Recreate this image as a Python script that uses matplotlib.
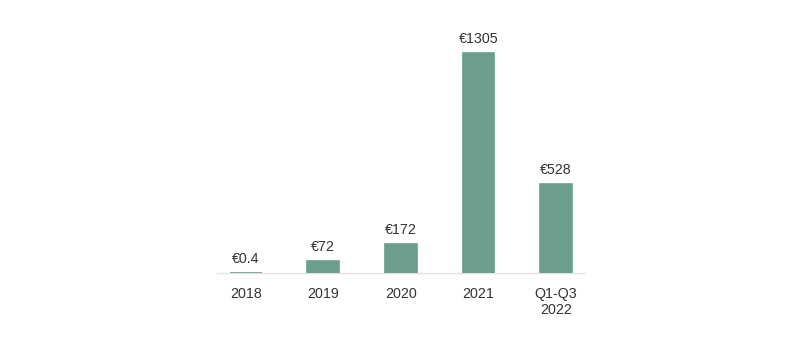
import matplotlib.pyplot as plt

plt.rcParams['font.family'] = ['Liberation Sans', 'DejaVu Sans']

periods = ['2018', '2019', '2020', '2021', 'Q1-Q3\n2022']
amounts = [0.4, 72, 172, 1305, 528]
value_labels = ['€0.4', '€72', '€172', '€1305', '€528']

bar_color = '#6b9e8e'
text_color = '#333333'

fig = plt.figure(figsize=(8, 3.45), dpi=100)
ax = fig.add_axes([0.2709, 0.2078, 0.4604, 0.733])

pos = list(range(len(periods)))
ax.bar(pos, amounts, width=0.41, color=bar_color, edgecolor=bar_color,
       linewidth=1.2, zorder=3)

for x, v, lab in zip(pos, amounts, value_labels):
    ax.annotate(lab, (x, v), xytext=(0, 5.5), textcoords='offset points',
                ha='center', va='bottom', fontsize=10.3, color=text_color)

ax.set_xlim(-0.373, 4.373)
ax.set_ylim(0, 1500)
ax.set_xticks(pos)
ax.set_xticklabels(periods, fontsize=10.3, color=text_color)
ax.tick_params(axis='x', length=0, pad=10)
ax.set_yticks([])

for s in ['top', 'right', 'left']:
    ax.spines[s].set_visible(False)
ax.spines['bottom'].set_color('#e3e3e3')
ax.spines['bottom'].set_linewidth(1)

fig.savefig('out.png', dpi=100)
